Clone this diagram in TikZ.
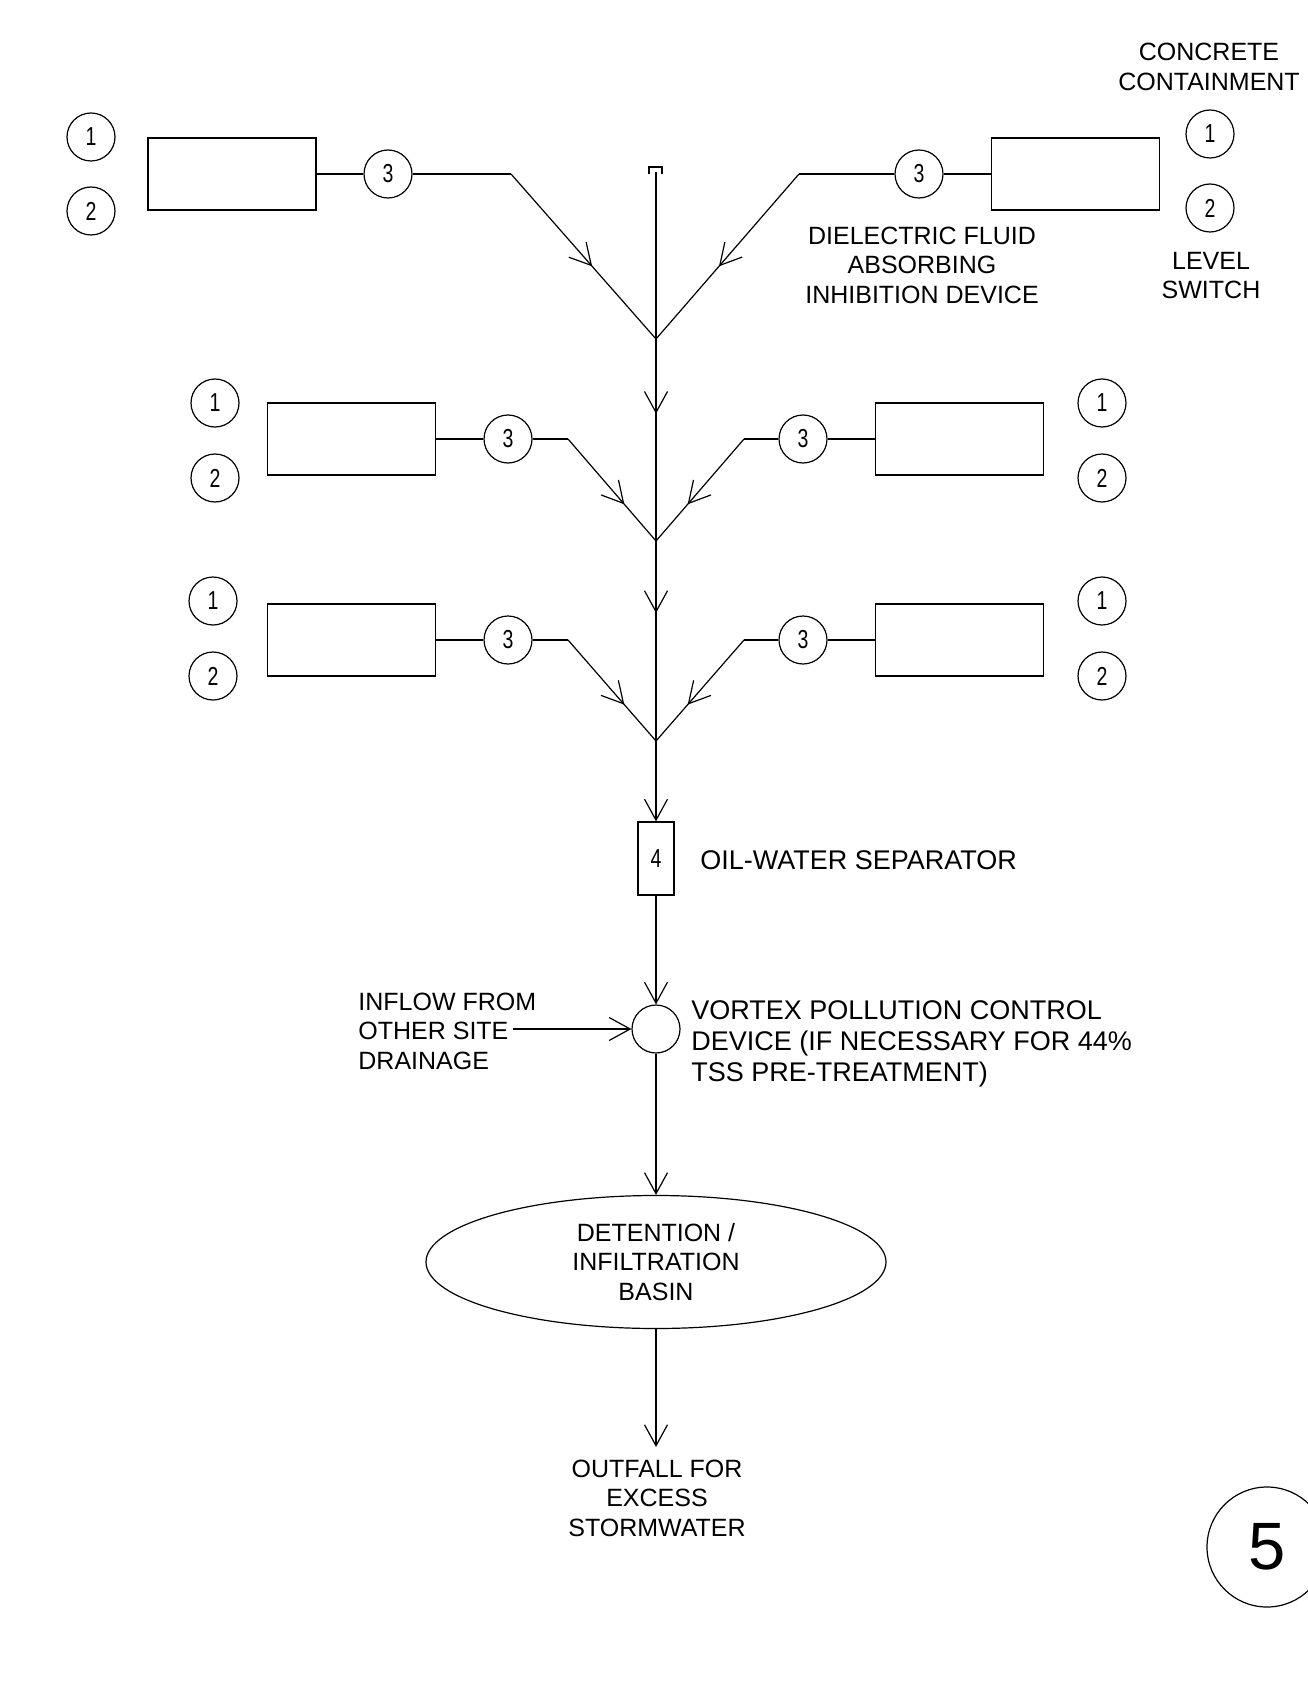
\documentclass[tikz,border=0pt]{standalone}
\usepackage{fontspec}
\setmainfont{Liberation Sans}
\newfontfamily\cadfont[FakeStretch=0.75]{Liberation Sans}
\usetikzlibrary{arrows.meta,shapes.geometric,decorations.markings}
\tikzset{
  flowtip/.tip={Straight Barb[length=10.5pt,width=11.5pt]},
  pipe/.style={line width=0.6pt},
  flow/.style={pipe,-flowtip},
  midflow/.style={pipe,postaction={decorate},
    decoration={markings,mark=at position #1 with {\arrow{flowtip}}}},
  tank/.style={draw,line width=0.6pt,minimum width=84pt,minimum height=36pt,inner sep=0pt},
  tag/.style={draw,circle,line width=0.6pt,minimum size=24pt,inner sep=0pt,
    font=\cadfont\fontsize{13}{14}\selectfont},
  note/.style={align=center,inner sep=0pt,font=\fontsize{12.5}{14.75}\selectfont},
  bignote/.style={align=left,inner sep=0pt,anchor=west,font=\fontsize{13.5}{15.5}\selectfont},
}

\begin{document}
\begin{tikzpicture}[x=0.5pt,y=-0.5pt]
  \useasboundingbox (0,0) rectangle (1307,1690);
  \node[tank] (tankA) at (232,174) {};
  \node[tag] (lvlA) at (91,137) {1};
  \node[tag] (swA) at (91,211) {2};
  \node[tag] (dfA) at (388,174) {3};
  \coordinate (bendA) at (511,174);
  \node[tank] (tankB) at (1075.5,174) {};
  \node[tag] (lvlB) at (1210,134) {1};
  \node[tag] (swB) at (1210,208) {2};
  \node[tag] (dfB) at (919,174) {3};
  \coordinate (bendB) at (799,174);

  \node[tank] (tankC) at (351.5,439) {};
  \node[tag] (lvlC) at (215,403) {1};
  \node[tag] (swC) at (215,478) {2};
  \node[tag] (dfC) at (508,439) {3};
  \coordinate (bendC) at (568,439);
  \node[tank] (tankD) at (959.5,439) {};
  \node[tag] (lvlD) at (1102,403) {1};
  \node[tag] (swD) at (1102,478) {2};
  \node[tag] (dfD) at (803,439) {3};
  \coordinate (bendD) at (744,439);

  \node[tank] (tankE) at (351.5,640) {};
  \node[tag] (lvlE) at (213,601) {1};
  \node[tag] (swE) at (213,676) {2};
  \node[tag] (dfE) at (508,640) {3};
  \coordinate (bendE) at (568,640);
  \node[tank] (tankF) at (959.5,640) {};
  \node[tag] (lvlF) at (1102,601) {1};
  \node[tag] (swF) at (1102,676) {2};
  \node[tag] (dfF) at (803,640) {3};
  \coordinate (bendF) at (744,640);

  \coordinate (top) at (656,172);
  \coordinate (j1) at (656,339);
  \coordinate (j2) at (656,541);
  \coordinate (j3) at (656,741);
  \node[draw,pipe,minimum width=18pt,minimum height=36.5pt,inner sep=0pt,
    font=\cadfont\fontsize{13}{14}\selectfont] (ows) at (656,858.5) {4};
  \node[draw,pipe,circle,minimum size=24pt,inner sep=0pt] (vortex) at (656,1029) {};
  \coordinate (inflowend) at (513,1029);
  \node[draw,pipe,ellipse,minimum width=230pt,minimum height=66.5pt,note] (basin) at (656,1262)
    {DETENTION /\\INFILTRATION\\BASIN};
  \coordinate (outfall) at (656,1447);

  \node[note] (concnote) at (1209,67) {CONCRETE\\CONTAINMENT};
  \node[note] (dfnote) at (922,265) {DIELECTRIC FLUID\\ABSORBING\\INHIBITION DEVICE};
  \node[note] (lvlnote) at (1211,275.5) {LEVEL\\SWITCH};
  \node[bignote] (owsnote) at (700,860) {OIL-WATER SEPARATOR};
  \node[bignote] (vortexnote) at (691,1044)
    {VORTEX POLLUTION CONTROL\\DEVICE (IF NECESSARY FOR 44\%\\TSS PRE-TREATMENT)};
  \node[note,align=left,anchor=west] (inflownote) at (358,1031) {INFLOW FROM\\OTHER SITE\\DRAINAGE};
  \node[note] (outfallnote) at (657,1498) {OUTFALL FOR\\EXCESS\\STORMWATER};
  \node[draw,pipe,circle,minimum size=60pt,inner sep=0pt,
    font=\fontsize{33.5}{40}\selectfont] (sheet) at (1267,1547) {5};

  \draw[pipe] (tankA) -- (dfA);
  \draw[pipe] (dfA) -- (bendA);
  \draw[midflow=0.56] (bendA) -- (j1);
  \draw[pipe] (tankB) -- (dfB);
  \draw[pipe] (dfB) -- (bendB);
  \draw[midflow=0.56] (bendB) -- (j1);
  \draw[pipe] (tankC) -- (dfC);
  \draw[pipe] (dfC) -- (bendC);
  \draw[midflow=0.64] (bendC) -- (j2);
  \draw[pipe] (tankD) -- (dfD);
  \draw[pipe] (dfD) -- (bendD);
  \draw[midflow=0.64] (bendD) -- (j2);
  \draw[pipe] (tankE) -- (dfE);
  \draw[pipe] (dfE) -- (bendE);
  \draw[midflow=0.64] (bendE) -- (j3);
  \draw[pipe] (tankF) -- (dfF);
  \draw[pipe] (dfF) -- (bendF);
  \draw[midflow=0.64] (bendF) -- (j3);

  \draw[pipe] (top) ++(-7,2) -- ++(0,-7) -- ++(13,0) -- ++(0,7);
  \draw[pipe] (top) -- (j1);
  \draw[midflow=0.37] (j1) -- (j2);
  \draw[midflow=0.36] (j2) -- (j3);
  \draw[flow] (j3) -- (ows);
  \draw[flow] (ows) -- (vortex);
  \draw[flow] (inflowend) -- (vortex);
  \draw[flow] (vortex) -- (basin);
  \draw[flow] (basin) -- (outfall);
\end{tikzpicture}
\end{document}
